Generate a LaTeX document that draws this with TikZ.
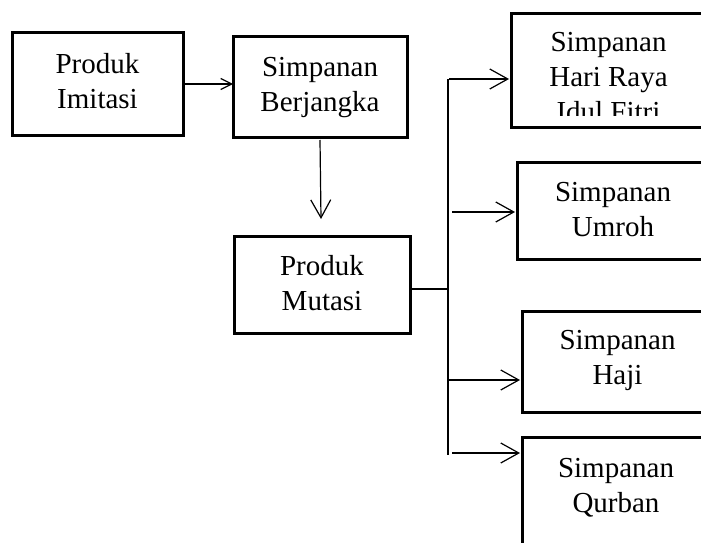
\documentclass[tikz,border=0pt]{standalone}
\usepackage{fontspec}
\setmainfont{Liberation Serif}
\usetikzlibrary{arrows.meta}
\begin{document}
\begin{tikzpicture}[x=1pt,y=-1pt,
  box/.style={draw, line width=3pt, inner sep=0pt, outer sep=0pt},
  txt/.style={align=center, anchor=base, inner sep=0pt, font=\fontsize{29}{35}\selectfont},
  conn/.style={line width=1.2pt},
  arr/.style={conn, -{Straight Barb[length=18pt,width=20pt,line width=1.2pt]}},
  arrsmall/.style={conn, -{Straight Barb[length=11pt,width=11pt,line width=1.2pt]}}]
\useasboundingbox (0,0) rectangle (701,543);
\clip (0,0) rectangle (701,543);
\fill[white] (0,0) rectangle (701,543);
% boxes
\node[box, minimum width=171pt, minimum height=102pt] (imit) at (97.5,84) {};
\node[box, minimum width=174pt, minimum height=100pt] (berj) at (320,87) {};
\node[box, minimum width=176pt, minimum height=97pt] (mut) at (322,284.5) {};
\node[box, minimum width=194pt, minimum height=113pt] (hr) at (608,70.5) {};
\node[box, minimum width=192pt, minimum height=97pt] (umr) at (613,210.5) {};
\node[box, minimum width=191pt, minimum height=101pt] (haji) at (617.5,361.5) {};
\node[box, minimum width=188pt, minimum height=123pt] (qur) at (616,498.5) {};
% texts (base anchor = baseline of the last line)
\node[txt] (timit) at (97.5,108) {Produk\\Imitasi};
\node[txt] (tberj) at (320,111) {Simpanan\\Berjangka};
\node[txt] (tmut) at (322,310) {Produk\\Mutasi};
\begin{scope}
  \clip (511,14) rectangle (705,115);
  \node[txt] (thr) at (608.5,121) {Simpanan\\Hari Raya\\Idul Fitri};
\end{scope}
\node[txt] (tumr) at (613,236) {Simpanan\\Umroh};
\node[txt] (thaji) at (617.5,384) {Simpanan\\Haji};
\node[txt] (tqur) at (616,512) {Simpanan\\Qurban};
% connectors
\coordinate (bustop) at (448,79);
\coordinate (busbot) at (448,455);
\coordinate (b1) at (449,79);
\coordinate (b2) at (452,212);
\coordinate (b3) at (448,380);
\coordinate (b4) at (452,453);
\draw[arrsmall] (imit.east) -- (imit.east -| berj.west);
\draw[arr] ([yshift=-3pt]berj.south) -- ([xshift=-1pt,yshift=17pt]mut.north);
\draw[conn] ([yshift=-4.5pt]mut.east) -- ([yshift=-4.5pt]mut.east -| bustop);
\draw[conn] (bustop) -- (busbot);
\draw[arr] (b1) -- ([xshift=-2pt]b1 -| hr.west);
\draw[arr] (b2) -- ([xshift=-2pt]b2 -| umr.west);
\draw[arr] (b3) -- ([xshift=-2pt]b3 -| haji.west);
\draw[arr] (b4) -- ([xshift=-2pt]b4 -| qur.west);
\end{tikzpicture}
\end{document}
